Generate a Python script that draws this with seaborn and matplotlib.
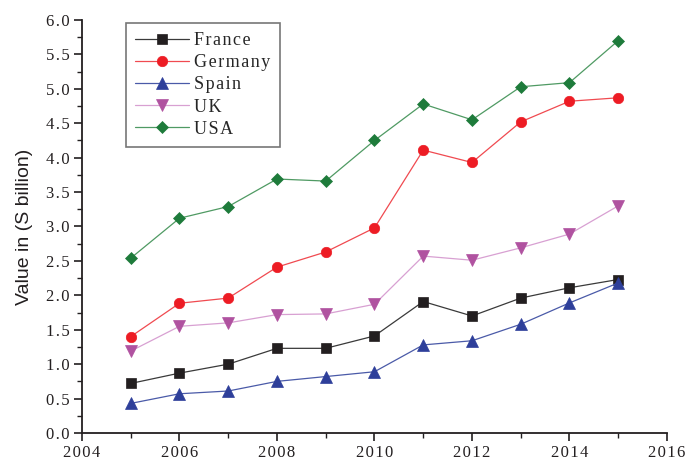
import matplotlib
matplotlib.use("Agg")
import matplotlib.pyplot as plt
from matplotlib.ticker import MultipleLocator, FuncFormatter
import seaborn as sns
import pandas as pd

years = [2005, 2006, 2007, 2008, 2009, 2010, 2011, 2012, 2013, 2014, 2015]
france = [0.72, 0.87, 1.00, 1.23, 1.23, 1.41, 1.91, 1.70, 1.96, 2.11, 2.23]
germany = [1.40, 1.885, 1.96, 2.41, 2.63, 2.98, 4.11, 3.93, 4.52, 4.82, 4.87]
spain = [0.43, 0.57, 0.61, 0.75, 0.82, 0.89, 1.28, 1.34, 1.58, 1.89, 2.18]
uk = [1.19, 1.55, 1.60, 1.72, 1.73, 1.87, 2.57, 2.51, 2.69, 2.89, 3.30]
usa = [2.54, 3.12, 3.29, 3.69, 3.66, 4.25, 4.78, 4.55, 5.03, 5.09, 5.70]

series = {"France": france, "Germany": germany, "Spain": spain, "UK": uk, "USA": usa}

# line colour, marker colour, marker shape, marker size
styles = {
    "France": ("#3a3a3a", "#231f20", "s", 6.5),
    "Germany": ("#f04a50", "#ed1c24", "o", 7.5),
    "Spain": ("#4a5aa8", "#2e3f9a", "^", 8.5),
    "UK": ("#d8a0d2", "#b052a0", "v", 8.5),
    "USA": ("#4f9a63", "#1e7b3b", "D", 6.5),
}


def spaced(text):
    # loose letter spacing with hair spaces
    return "\u200a".join(text)


df = pd.DataFrame(
    [(y, name, v) for name, vals in series.items() for y, v in zip(years, vals)],
    columns=["Year", "Country", "Value"],
)

sns.set_style("ticks")
plt.rcParams["font.family"] = ["Liberation Serif", "DejaVu Serif"]

fig = plt.figure(figsize=(6.85, 4.63), dpi=100)
ax = fig.add_axes([0.1197, 0.0648, 0.854, 0.892])

for name in series:
    lc, mc, mk, ms = styles[name]
    sub = df[df["Country"] == name]
    sns.lineplot(data=sub, x="Year", y="Value", ax=ax, color=lc, linewidth=0.9,
                 marker=mk, markersize=ms, markerfacecolor=mc, markeredgecolor=mc,
                 markeredgewidth=0.5, label=spaced(name))

ax.set_xlim(2004, 2016)
ax.set_ylim(0, 6.0)
ax.xaxis.set_major_locator(MultipleLocator(2))
ax.xaxis.set_minor_locator(MultipleLocator(1))
ax.yaxis.set_major_locator(MultipleLocator(0.5))
ax.yaxis.set_minor_locator(MultipleLocator(0.25))
ax.xaxis.set_major_formatter(FuncFormatter(lambda v, p: spaced(f"{v:.0f}")))
ax.yaxis.set_major_formatter(FuncFormatter(lambda v, p: spaced(f"{v:.1f}")))

for s in ["top", "right"]:
    ax.spines[s].set_visible(False)
for s in ["left", "bottom"]:
    ax.spines[s].set_linewidth(1.3)
    ax.spines[s].set_color("#231f20")

ax.tick_params(which="major", direction="out", length=6, width=1.2, colors="#231f20",
               labelsize=12, pad=3)
ax.tick_params(which="minor", direction="out", length=3.5, width=1.0, colors="#231f20")

ax.set_xlabel("")
ax.set_ylabel("Value in (S billion)", fontsize=14, family=["Liberation Sans", "DejaVu Sans"],
              color="#231f20", labelpad=9)

leg = ax.legend(loc="upper left", bbox_to_anchor=(0.075, 0.992), frameon=True, fancybox=False,
                fontsize=13, handlelength=3.0, borderpad=0.5, labelspacing=0.28,
                handletextpad=0.3, borderaxespad=0)
leg.get_frame().set_edgecolor("#555555")
leg.get_frame().set_linewidth(1.2)

fig.savefig("out.png", dpi=100)
